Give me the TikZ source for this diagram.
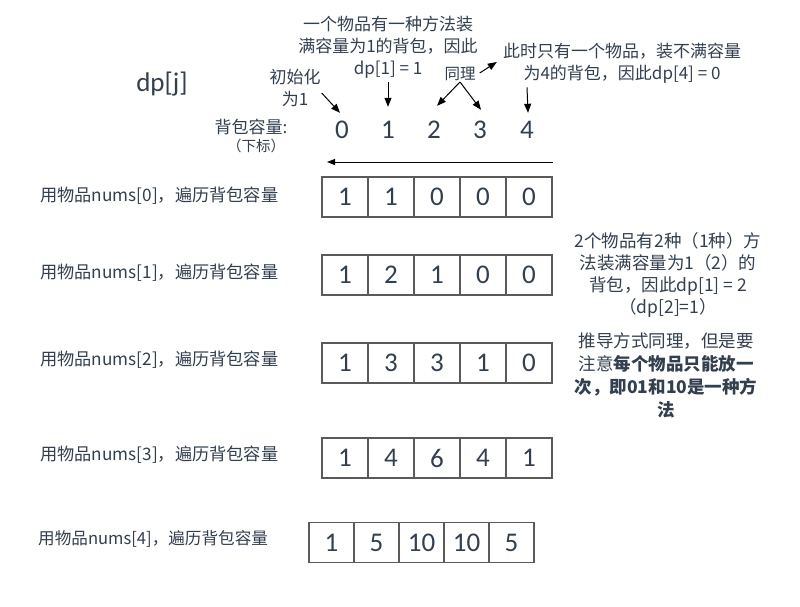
\documentclass[tikz,border=0pt]{standalone}
\usepackage{fontspec}
\setmainfont{Noto Sans CJK SC}
\newfontfamily\numfont{Carlito}
\usetikzlibrary{arrows.meta}
\definecolor{textc}{RGB}{50,63,79}
\definecolor{boxc}{RGB}{90,90,90}

\begin{document}
\begin{tikzpicture}[
    x=1pt, y=-1pt,
    arrowstyle/.style={draw, line width=1pt, -{Triangle[length=9pt,width=7pt]}},
    backstyle/.style={draw, line width=1pt, -{Triangle[length=8pt,width=6pt]}},
    cell/.style={rectangle, draw=boxc, line width=1.1pt, minimum width=46pt,
        minimum height=40pt, inner sep=0pt, text=textc,
        font=\numfont\fontsize{27}{27}\selectfont},
    idx/.style={inner sep=1pt, text height=16pt, text depth=0pt, text=textc,
        font=\numfont\fontsize{27}{27}\selectfont},
    rowlabel/.style={inner sep=0pt, anchor=west, text=textc,
        font=\fontsize{17.2}{20}\selectfont},
    note/.style={inner sep=1pt, align=center, text=textc,
        font=\fontsize{17}{22}\selectfont}
]
\useasboundingbox (0,0) rectangle (800,606);

% header
\node (dpj) [inner sep=1pt, text=textc, font=\numfont\fontsize{27}{27}\selectfont] at (162,84) {dp[j]};
\node (cap) [note] at (251,127) {背包容量:};
\node (sub) [note, font=\fontsize{14.5}{16}\selectfont] at (256,146) {（下标）};

\foreach \i/\xx in {0/342, 1/388, 2/434, 3/480, 4/527}
  \node (idx\i) [idx] at (\xx,130) {\i};

% notes over the indices
\node (init) [note] at (295,88) {初始化\\为1};
\node (one) [note] at (388,47) {一个物品有一种方法装\\满容量为1的背包，因此\\dp[1] = 1};
\node (same) [note, font=\fontsize{15.5}{18}\selectfont] at (460,74) {同理};
\node (four) [note] at (622,63) {此时只有一个物品，装不满容量\\为4的背包，因此dp[4] = 0};

\draw[arrowstyle] ([yshift=-5pt]init.east) -- ([xshift=-2pt,yshift=8pt]idx0.north);
\draw[arrowstyle] ([yshift=-3pt]one.south) -- ([yshift=14pt]idx1.north);
\draw[arrowstyle] (same.south) -- ([xshift=3pt,yshift=15pt]idx2.north);
\draw[arrowstyle] (same.south) -- ([xshift=1pt,yshift=11pt]idx3.north);
\draw[arrowstyle] ([xshift=3pt,yshift=1pt]same.east) -- ([xshift=-5pt,yshift=1pt]four.west);
\draw[arrowstyle] ([yshift=-3pt]four.south -| idx4) -- ([xshift=1pt,yshift=8pt]idx4.north);

% traversal direction
\coordinate (backR) at (553,162);
\coordinate (backL) at (327,162);
\draw[backstyle] (backR) -- (backL);

% dp rows
\foreach \r/\xx/\yy/\w/\lx/\ly/\fs/\vals in {
    0/345/197/46/40/196/17.2/{1,1,0,0,0},
    1/345/275/46/40/273/17.2/{1,2,1,0,0},
    2/345/363/46/40/360/17.2/{1,3,3,1,0},
    3/345/458/46/40/455/17.2/{1,4,6,4,1},
    4/331.5/542.5/45/38/539/16.6/{1,5,10,10,5}}{
  \node (lab\r) [rowlabel, font=\fontsize{\fs}{20}\selectfont] at (\lx,\ly) {用物品nums[\r]，遍历背包容量};
  \foreach \v [count=\i from 0] in \vals
    \node (c\r\i) [cell, minimum width=\w pt] at (\xx+\w*\i,\yy) {\v};
}

% remarks on the right
\node (why2) [note, font=\fontsize{17.5}{22}\selectfont] at (668,275)
  {2个物品有2种（1种）方\\法装满容量为1（2）的\\背包，因此dp[1] = 2\\（dp[2]=1）};
\node (why3) [note, font=\fontsize{17.5}{23}\selectfont] at (666,375)
  {推导方式同理，但是要\\注意\textbf{每个物品只能放一}\\\textbf{次，即01和10是一种方}\\\textbf{法}};

\end{tikzpicture}
\end{document}
